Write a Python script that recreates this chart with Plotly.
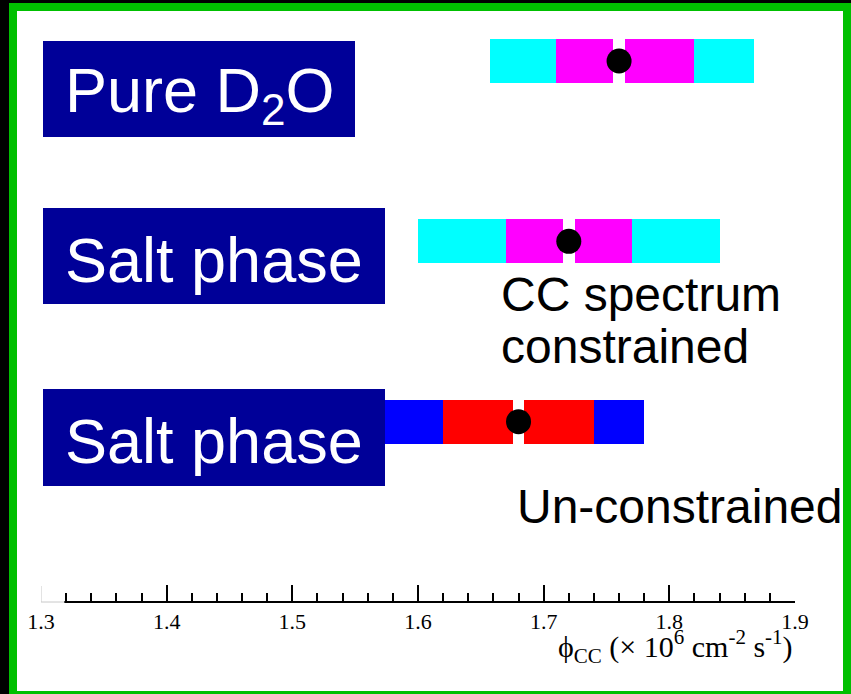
import plotly.graph_objects as go

W, H = 851, 694

# ---- data (phi_CC in 10^6 cm^-2 s^-1) ----
row_labels = ["Pure D<sub>2</sub>O", "Salt phase", "Salt phase"]
central = [1.76, 1.72, 1.68]
stat_lo = [1.71, 1.67, 1.62]
stat_hi = [1.82, 1.77, 1.74]
tot_lo = [1.657, 1.60, 1.572]
tot_hi = [1.867, 1.84, 1.78]
tot_colors = ["#00FFFF", "#00FFFF", "#0000FF"]
stat_colors = ["#FF00FF", "#FF00FF", "#FF0000"]
tick_vals = [1.3, 1.4, 1.5, 1.6, 1.7, 1.8, 1.9]
tick_text = ["1.3", "1.4", "1.5", "1.6", "1.7", "1.8", "1.9"]

# ---- layout constants (pixel rows) ----
row_y = [61, 241.3, 421.7]
bar_h = 44
gap_w = 0.0092
NAVY = "#000098"
AXIS_Y = 602

def px(x):
    return x / W

def py(y):
    return 1 - y / H

fig = go.Figure()

for i in range(3):
    fig.add_trace(go.Bar(
        orientation="h", y=[row_y[i]], base=[tot_lo[i]],
        x=[tot_hi[i] - tot_lo[i]], width=bar_h,
        marker=dict(color=tot_colors[i], line=dict(width=0)),
        showlegend=False, hoverinfo="skip"))
    fig.add_trace(go.Bar(
        orientation="h", y=[row_y[i]], base=[stat_lo[i]],
        x=[stat_hi[i] - stat_lo[i]], width=bar_h,
        marker=dict(color=stat_colors[i], line=dict(width=0)),
        showlegend=False, hoverinfo="skip"))
    fig.add_trace(go.Bar(
        orientation="h", y=[row_y[i]], base=[central[i] - gap_w / 2],
        x=[gap_w], width=bar_h,
        marker=dict(color="white", line=dict(width=0)),
        showlegend=False, hoverinfo="skip"))

fig.add_trace(go.Scatter(
    x=central, y=row_y, mode="markers",
    marker=dict(color="black", size=25, line=dict(width=0)),
    showlegend=False, hoverinfo="skip"))

shapes = [
    # green frame on black background
    dict(type="rect", xref="paper", yref="paper", x0=px(9), x1=1,
         y0=0, y1=py(3), fillcolor="#00C000", line=dict(width=0), layer="below"),
    dict(type="rect", xref="paper", yref="paper", x0=px(17), x1=px(843),
         y0=py(691), y1=py(11), fillcolor="white", line=dict(width=0), layer="below"),
    # faint start of the axis (1.3 to first minor tick)
    dict(type="rect", xref="x", yref="y", x0=1.2985, x1=1.3185,
         y0=AXIS_Y + 2, y1=AXIS_Y - 18, fillcolor="white", line=dict(width=0), layer="above"),
    dict(type="line", xref="x", yref="y", x0=1.3, x1=1.3,
         y0=AXIS_Y - 16, y1=AXIS_Y, line=dict(color="#c8c8c8", width=1), layer="above"),
    dict(type="line", xref="x", yref="y", x0=1.3, x1=1.3185,
         y0=AXIS_Y, y1=AXIS_Y, line=dict(color="#c8c8c8", width=1), layer="above"),
]
boxes = [(43, 355, 41, 137), (43, 385, 208, 304), (43, 385, 389, 486)]
for (x0, x1, y0, y1) in boxes:
    shapes.append(dict(type="rect", xref="paper", yref="paper",
                       x0=px(x0), x1=px(x1), y0=py(y1), y1=py(y0),
                       fillcolor=NAVY, line=dict(width=0), layer="above"))

annotations = []
label_mid = [91, 256, 437]
for i in range(3):
    annotations.append(dict(
        text=row_labels[i], xref="paper", yref="paper",
        x=px(63), y=py(label_mid[i] + 4), xanchor="left", yanchor="middle",
        showarrow=False,
        font=dict(family="Liberation Sans, Arial", size=63, color="white")))

sans = dict(family="Liberation Sans, Arial", size=48, color="black")
annotations += [
    dict(text="CC spectrum", xref="paper", yref="paper", x=px(499), y=py(294),
         xanchor="left", yanchor="middle", showarrow=False, font=sans),
    dict(text="constrained", xref="paper", yref="paper", x=px(499), y=py(346),
         xanchor="left", yanchor="middle", showarrow=False, font=sans),
    dict(text="Un-constrained", xref="paper", yref="paper", x=px(515), y=py(506),
         xanchor="left", yanchor="middle", showarrow=False, font=sans),
    dict(text="ϕ<sub>CC</sub> (× 10<sup>6</sup> cm<sup>-2</sup> s<sup>-1</sup>)",
         xref="paper", yref="paper", x=px(795), y=py(646),
         xanchor="right", yanchor="middle", showarrow=False,
         font=dict(family="Liberation Serif, Times New Roman", size=30, color="black")),
]

fig.update_layout(
    width=W, height=H,
    margin=dict(l=0, r=0, t=0, b=0, pad=0, autoexpand=False),
    paper_bgcolor="black",
    plot_bgcolor="rgba(0,0,0,0)",
    barmode="overlay",
    bargap=0,
    shapes=shapes,
    annotations=annotations,
    xaxis=dict(
        domain=[px(41), px(795)], range=[1.3, 1.9],
        anchor="free", position=py(AXIS_Y), automargin=False,
        showgrid=False, zeroline=False,
        showline=True, linecolor="black", linewidth=2,
        ticks="inside", ticklen=16, tickwidth=2, tickcolor="black",
        tickvals=tick_vals, ticktext=tick_text,
        tickfont=dict(family="Liberation Serif, Times New Roman", size=22, color="black"),
        minor=dict(dtick=0.02, ticks="inside", ticklen=8, tickwidth=2, tickcolor="black"),
        fixedrange=True,
    ),
    yaxis=dict(
        domain=[0, 1], range=[H, 0], visible=False, fixedrange=True, automargin=False,
    ),
)

fig.write_html("out.html")
